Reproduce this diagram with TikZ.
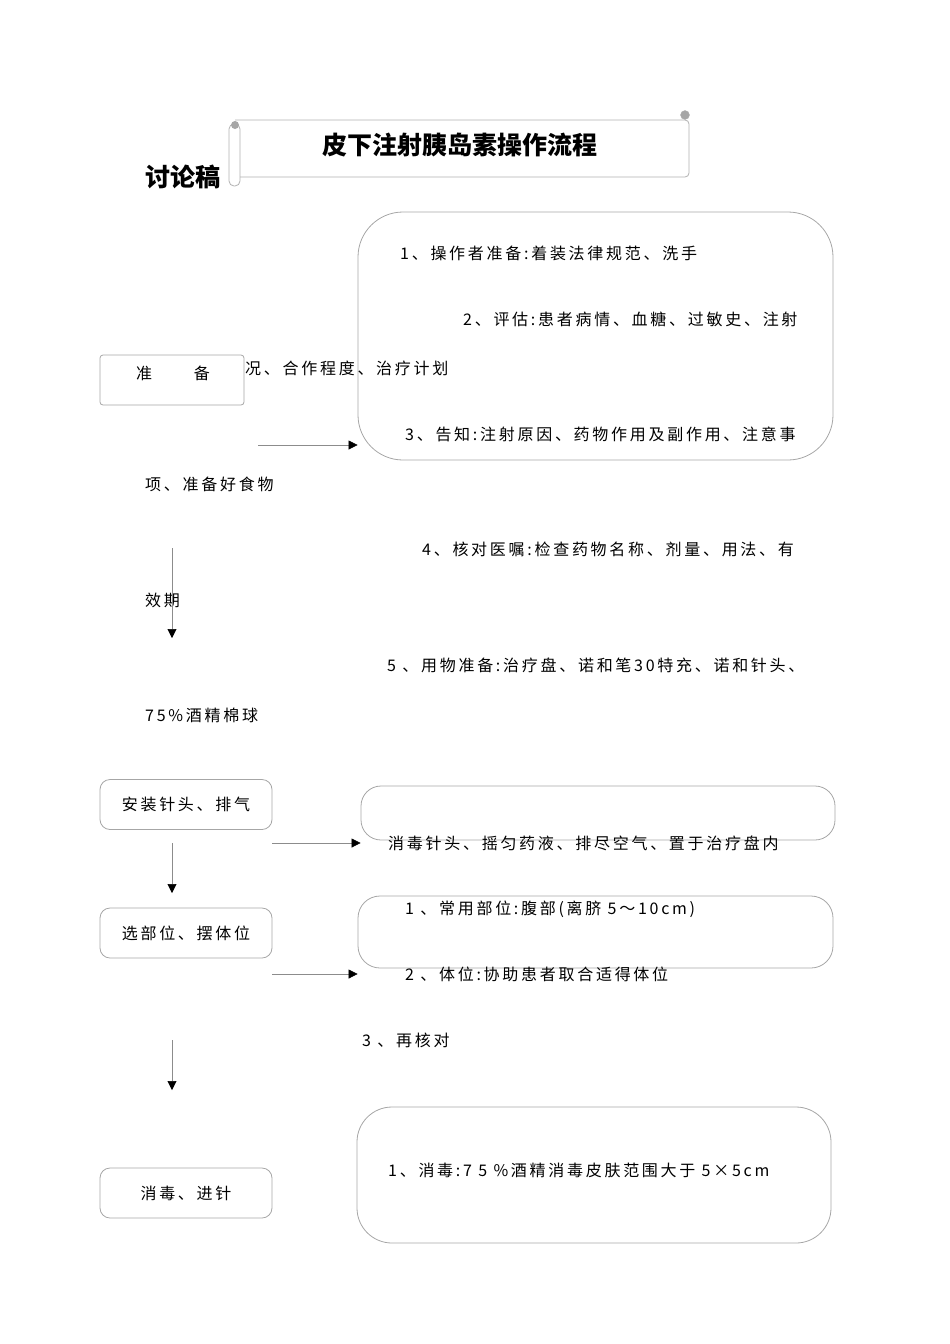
\documentclass[tikz,border=0pt]{standalone}
\usepackage{fontspec}
\newfontfamily\cjk[LetterSpace=17]{Noto Sans CJK SC}
\newfontfamily\cjkt{Noto Sans CJK SC}
\usetikzlibrary{arrows.meta}
\begin{document}
\begin{tikzpicture}[x=1pt,y=-1pt,
  bigbox/.style={draw=black!35, line width=0.8pt, inner sep=0pt},
  stepbox/.style={draw=black!35, line width=0.8pt, rounded corners=10pt, inner sep=0pt,
     minimum width=172pt, minimum height=50pt, font=\cjk\fontsize{16}{16}\selectfont},
  txt/.style={anchor=west, inner sep=0pt, font=\cjk\fontsize{16}{16}\selectfont},
  arr/.style={draw=black!45, line width=0.6pt, -{Triangle[length=9pt,width=9pt,fill=black,color=black]}}
]
\useasboundingbox (0,0) rectangle (950,1344);

% title scroll
\fill[white] (229,120) rectangle (690,186);
\draw[black!30, line width=0.8pt, rounded corners=4pt]
  (235,120) -- (689,120) -- (689,177) -- (240,177);
\draw[black!30, line width=0.8pt, rounded corners=5pt]
  (229,124) rectangle (240,186);
\fill[black!35] (235,125) circle (4);
\draw[black!30, fill=black!35] (685,115) circle (4.5);
\node[inner sep=0pt, font=\cjkt\bfseries\fontsize{25}{25}\selectfont] (title) at (460,145) {皮下注射胰岛素操作流程};
\node[anchor=west, inner sep=0pt, font=\cjkt\bfseries\fontsize{25}{25}\selectfont] (draft) at (145,177) {讨论稿};

% big box 1
\node[bigbox, rounded corners=45pt, minimum width=475pt, minimum height=248pt] (b1) at (595.5,336) {};
\node[txt] (t11) at (400,253) {1、操作者准备:着装法律规范、洗手};
\node[txt] (t12) at (463,319) {2、评估:患者病情、血糖、过敏史、注射};
\node[txt] (t12b) at (245,368) {况、合作程度、治疗计划};
\node[txt] (t13) at (405,434) {3、告知:注射原因、药物作用及副作用、注意事};
\node[txt] (t13b) at (145,484) {项、准备好食物};
\node[txt] (t14) at (422,549) {4、核对医嘱:检查药物名称、剂量、用法、有};
\node[txt] (t14b) at (145,600) {效期};
\node[txt] (t15) at (387,665) {5 、用物准备:治疗盘、诺和笔30特充、诺和针头、};
\node[txt] (t15b) at (145,715) {75\%酒精棉球};

% prep box
\node[stepbox, fill=white, rounded corners=3pt, minimum width=144pt, minimum height=50pt] (prep) at (172,380) {};
\node[inner sep=0pt, font=\cjk\fontsize{16}{16}\selectfont] (preplbl) at (173,373) {准\hspace{2.6em}备};

\coordinate (a1s) at (258,445);
\draw[arr] (a1s) -- (a1s -| b1.west);
\coordinate (v1s) at (172,548);
\coordinate (v1e) at (172,638);
\draw[arr] (v1s) -- (v1e);

% step 2
\node[stepbox] (inst) at (186,804.5) {安装针头、排气};
\node[bigbox, rounded corners=20pt, minimum width=474pt, minimum height=54pt] (b2) at (598,813) {};
\coordinate (a2s) at (272,843);
\draw[arr] (a2s) -- (a2s -| b2.west);
\node[txt] (t21) at (388,843) {消毒针头、摇匀药液、排尽空气、置于治疗盘内};
\coordinate (v2s) at (172,843);
\coordinate (v2e) at (172,893);
\draw[arr] (v2s) -- (v2e);

% step 3
\node[stepbox] (site) at (186,933) {选部位、摆体位};
\node[bigbox, rounded corners=22pt, minimum width=475pt, minimum height=72pt] (b3) at (595.5,932) {};
\node[txt] (t31) at (405,909) {1 、常用部位:腹部(离脐 5～10cm)};
\coordinate (a3s) at (272,974);
\draw[arr] (a3s) -- (a3s -| b3.west);
\node[txt] (t32) at (405,974) {2 、体位:协助患者取合适得体位};
\node[txt] (t33) at (362,1040) {3 、再核对};
\coordinate (v3s) at (172,1040);
\coordinate (v3e) at (172,1090);
\draw[arr] (v3s) -- (v3e);

% step 4
\node[bigbox, rounded corners=35pt, minimum width=474pt, minimum height=136pt] (b4) at (594,1175) {};
\node[txt] (t41) at (388,1170) {1、消毒:7 5 \%酒精消毒皮肤范围大于 5×5cm};
\node[stepbox] (disinf) at (186,1193) {消毒、进针};
\end{tikzpicture}
\end{document}
